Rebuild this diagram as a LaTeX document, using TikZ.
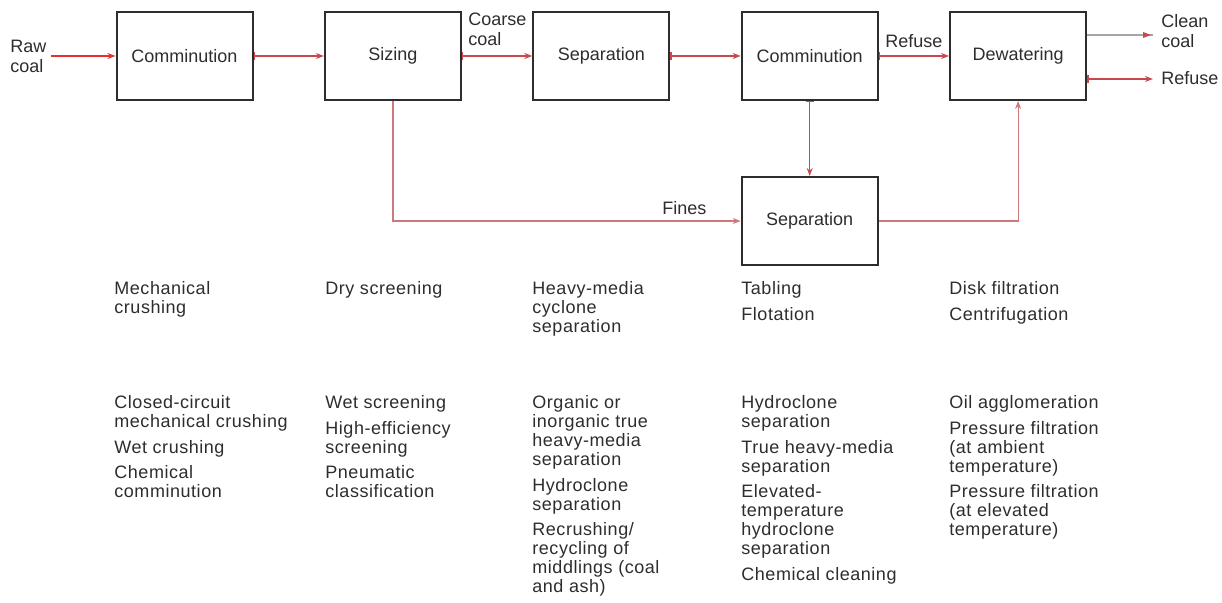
\documentclass[tikz,border=0pt]{standalone}
\usepackage{fontspec}
\setmainfont{Liberation Sans}
\newfontfamily\notefont[LetterSpace=3]{Liberation Sans}
\usetikzlibrary{arrows.meta,positioning}
\definecolor{flowred}{RGB}{200,72,78}
\definecolor{rawred}{RGB}{228,48,48}
\definecolor{finered}{RGB}{205,120,125}
\definecolor{inkgray}{RGB}{45,45,45}
\newcommand{\notegap}{3.3pt}

\begin{document}
\begin{tikzpicture}[x=0.5pt,y=-0.5pt,node distance=35.2pt,
    step box/.style={draw=inkgray,line width=1pt,minimum width=68pt,minimum height=44pt,
        inner sep=0pt,font=\fontsize{9}{11}\selectfont,text=inkgray},
    flow/.style={draw=flowred,line width=0.7pt,{Bar[width=4pt]}-{Stealth[length=4pt,width=3pt]}},
    fine/.style={draw=finered,line width=0.6pt,-{Stealth[length=4pt,width=3pt]}},
    flow label/.style={inner sep=0pt,align=left,font=\fontsize{9}{10}\selectfont,text=inkgray},
    note/.style={anchor=north west,inner sep=0pt,align=left,
        font=\notefont\fontsize{9}{9.5}\selectfont,text=inkgray}]
  \useasboundingbox (0,0) rectangle (1222,603);

  % process steps
  \node[step box] (comm1) at (184.5,56) {Comminution};
  \node[step box, right=of comm1] (sizing) {Sizing};
  \node[step box, right=of sizing] (sep1) {Separation};
  \node[step box, right=of sep1] (comm2) {Comminution};
  \node[step box, right=of comm2] (dewater) {Dewatering};
  \node[step box, below=37.5pt of comm2] (sep2) {Separation};

  % flow labels
  \node[flow label, anchor=west] (raw) at (10,56) {Raw\\coal};
  \node[flow label, anchor=north west] (coarse) at ([xshift=3pt,yshift=-1pt]sizing.north east) {Coarse\\coal};
  \node[flow label, anchor=south east] (fines) at ([xshift=-17pt,yshift=3pt]sep2.west) {Fines};
  \node[flow label, anchor=west] (clean) at (1161,31) {Clean\\coal};
  \node[flow label, anchor=west] (refuse2) at (1161,78) {Refuse};
  \coordinate (cleanend) at (1153,35);
  \coordinate (refuseend) at (1153,79);

  % connectors
  \draw[draw=rawred,line width=0.8pt,-{Stealth[length=4pt,width=3pt]},shorten <=2pt] (raw) -- (comm1);
  \draw[flow] (comm1) -- (sizing);
  \draw[flow] (sizing) -- (sep1);
  \draw[flow] (sep1) -- (comm2);
  \draw[flow] (comm2) -- node[flow label, above=4pt] (refuse1) {Refuse} (dewater);
  \draw[flow] (comm2) -- (sep2);
  \draw[fine] (sizing.south) |- (sep2.west);
  \draw[fine] (sep2.east) -| (dewater.south);
  \draw[draw=gray!70,line width=0.7pt] (dewater.east |- cleanend) -- (cleanend);
  \fill[flowred] (cleanend) ++(-1pt,0) -- ++(-4pt,-1.5pt) -- ++(0,3pt) -- cycle;
  \draw[flow] (dewater.east |- refuseend) -- (refuseend);

  % methods, current practice
  \node[note] (mechtop) at (114,281) {Mechanical\\crushing};
  \node[note] (drytop) at (325,281) {Dry screening};
  \node[note] (hmtop) at (532,281) {Heavy-media\\cyclone\\separation};
  \node[note] (tabtop) at (741,281) {Tabling\\[\notegap]Flotation};
  \node[note] (disktop) at (949,281) {Disk filtration\\[\notegap]Centrifugation};

  % methods, advanced
  \node[note] (commbot) at (114,395) {Closed-circuit\\mechanical crushing\\[\notegap]Wet crushing\\[\notegap]Chemical\\comminution};
  \node[note] (wetbot) at (325,395) {Wet screening\\[\notegap]High-efficiency\\screening\\[\notegap]Pneumatic\\classification};
  \node[note] (orgbot) at (532,395) {Organic or\\inorganic true\\heavy-media\\separation\\[\notegap]Hydroclone\\separation\\[\notegap]Recrushing/\\recycling of\\middlings (coal\\and ash)};
  \node[note] (hydbot) at (741,395) {Hydroclone\\separation\\[\notegap]True heavy-media\\separation\\[\notegap]Elevated-\\temperature\\hydroclone\\separation\\[\notegap]Chemical cleaning};
  \node[note] (oilbot) at (949,395) {Oil agglomeration\\[\notegap]Pressure filtration\\(at ambient\\temperature)\\[\notegap]Pressure filtration\\(at elevated\\temperature)};
\end{tikzpicture}
\end{document}
